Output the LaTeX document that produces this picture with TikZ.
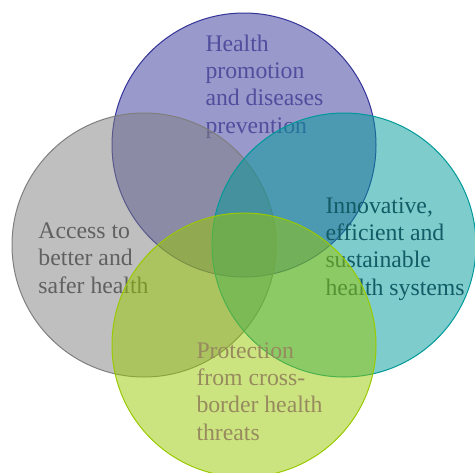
\documentclass[tikz,border=0pt]{standalone}
\usepackage{fontspec}
\setmainfont{Liberation Serif}
\definecolor{promoBlue}{RGB}{51,51,153}
\definecolor{accessGray}{RGB}{127,127,127}
\definecolor{innoTeal}{RGB}{0,153,153}
\definecolor{protGreen}{RGB}{153,201,1}
\definecolor{promoText}{RGB}{82,78,158}
\definecolor{accessText}{RGB}{96,96,96}
\definecolor{innoText}{RGB}{18,92,102}
\definecolor{protText}{RGB}{150,138,94}
\tikzset{every picture/.style={line width=0.75pt}}
\tikzset{
  lbl/.style={anchor=base west, inner sep=0pt, align=left,
    font=\fontsize{17.8}{20.5}\selectfont}
}
\begin{document}
\begin{tikzpicture}[x=0.75pt,y=0.75pt,yscale=-1,xscale=1]
	\useasboundingbox (0,0) rectangle (475,472);

	%Shape: Circle [top]
	\draw  [draw=promoBlue, fill=promoBlue, fill opacity=0.5]  (244,145) circle (132) ;
	% Text Node (base = last line)
	\draw (205,133) node [lbl, text=promoText] (promo) {Health\\promotion\\and diseases\\prevention};

	%Shape: Circle [left]
	\draw  [draw=accessGray, fill=accessGray, fill opacity=0.5]  (144,245) circle (132) ;
	% Text Node
	\draw (38,293) node [lbl, text=accessText] (access) {Access to\\better and\\safer health};

	%Shape: Circle [right]
	\draw  [draw=innoTeal, fill=innoTeal, fill opacity=0.5]  (344,245) circle (132) ;
	% Text Node
	\draw (325,295) node [lbl, text=innoText] (inno) {Innovative,\\efficient and\\sustainable\\health systems};

	%Shape: Circle [bottom]
	\draw  [draw=protGreen, fill=protGreen, fill opacity=0.5]  (244,345) circle (132) ;
	% Text Node
	\draw (196,440) node [lbl, text=protText] (prot) {Protection\\from cross-\\border health\\threats};

\end{tikzpicture}
\end{document}
